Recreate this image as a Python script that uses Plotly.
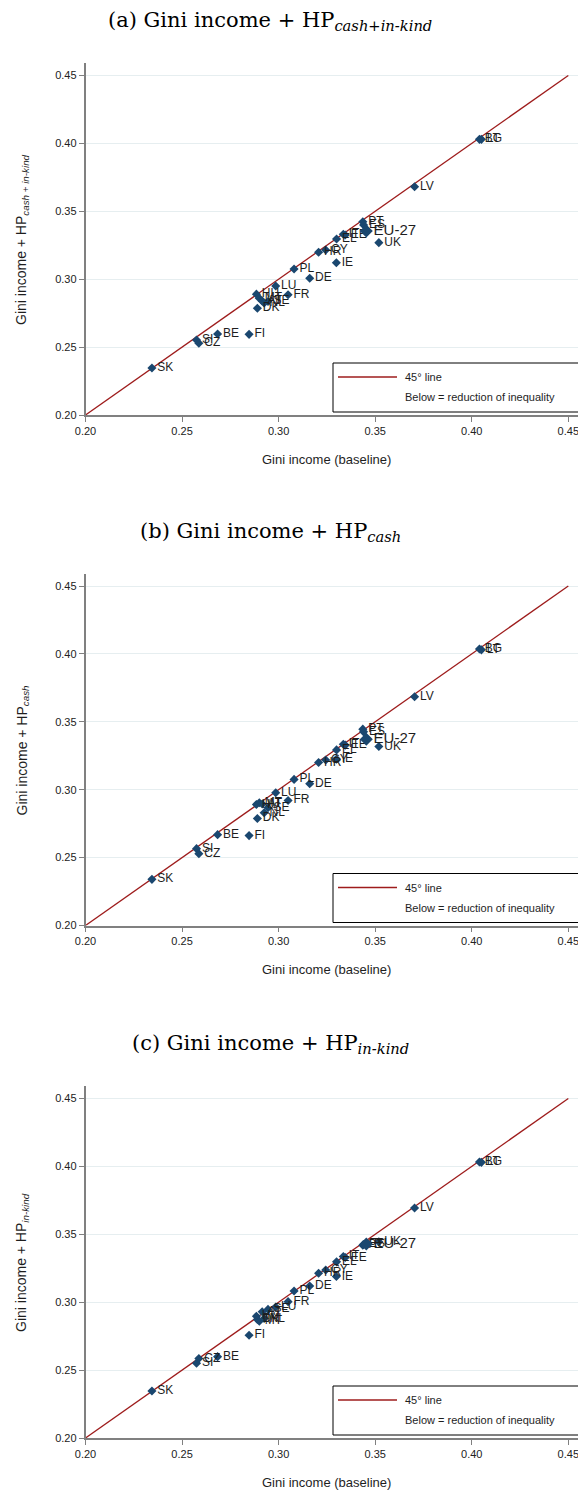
import plotly.graph_objects as go

# ---------------- data ----------------
countries = ["SK", "SI", "CZ", "BE", "FI", "HU", "DK", "MT", "AT", "NL", "SE",
             "LU", "FR", "PL", "DE", "HR", "CY", "IE", "EL", "IT", "EE",
             "PT", "ES", "UK", "LV", "BG", "LT"]
gini_base = [0.2344, 0.2575, 0.2587, 0.2684, 0.2847, 0.2885, 0.2890, 0.2900, 0.2915, 0.2925, 0.2945,
             0.2985, 0.3049, 0.3080, 0.3161, 0.3207, 0.3244, 0.3299, 0.3300, 0.3335, 0.3345,
             0.3436, 0.3440, 0.3519, 0.3704, 0.4040, 0.4050]
gini_cash_inkind = [0.2346, 0.2552, 0.2528, 0.2596, 0.2594, 0.2890, 0.2786, 0.2860, 0.2840, 0.2825, 0.2836,
                    0.2950, 0.2886, 0.3075, 0.3007, 0.3198, 0.3215, 0.3121, 0.3296, 0.3331, 0.3325,
                    0.3423, 0.3400, 0.3269, 0.3681, 0.4030, 0.4030]
gini_cash = [0.2340, 0.2566, 0.2529, 0.2669, 0.2662, 0.2891, 0.2788, 0.2904, 0.2895, 0.2830, 0.2867,
             0.2978, 0.2921, 0.3076, 0.3044, 0.3200, 0.3219, 0.3224, 0.3293, 0.3335, 0.3328,
             0.3446, 0.3426, 0.3318, 0.3685, 0.4036, 0.4030]
gini_inkind = [0.2346, 0.2550, 0.2585, 0.2599, 0.2757, 0.2897, 0.2873, 0.2860, 0.2930, 0.2880, 0.2947,
               0.2964, 0.3004, 0.3082, 0.3119, 0.3213, 0.3237, 0.3189, 0.3297, 0.3337, 0.3329,
               0.3420, 0.3425, 0.3445, 0.3694, 0.4032, 0.4030]

eu_label = ["EU-27"]
eu_base = [0.3454]
eu_cash_inkind = [0.3355]
eu_cash = [0.3372]
eu_inkind = [0.3428]

diag = [0.20, 0.45]
ticks = [0.20, 0.25, 0.30, 0.35, 0.40, 0.45]
tick_text = ["0.20", "0.25", "0.30", "0.35", "0.40", "0.45"]

panel_titles = ["(a) Gini income + HP<sub><i>cash+in-kind</i></sub>",
                "(b) Gini income + HP<sub><i>cash</i></sub>",
                "(c) Gini income + HP<sub><i>in-kind</i></sub>"]
y_titles = ["Gini income + HP<sub><i>cash + in-kind</i></sub>",
            "Gini income + HP<sub><i>cash</i></sub>",
            "Gini income + HP<sub><i>in-kind</i></sub>"]
x_title = "Gini income (baseline)"
legend_texts = ["45° line", "Below = reduction of inequality"]

# ---------------- layout helpers ----------------
W, H = 578, 1493
def xp(px):
    return px / W
def yp(py):
    return 1 - py / H

NAVY = "#1a476f"
RED = "#9e1c1c"
SANS = "Liberation Sans, Arial, sans-serif"
SERIF = "DejaVu Serif, Liberation Serif, serif"

offsets = [0, 510.5, 1023]
X0_PX, X45_PX = 85.5, 568.3
ppu_x = (X45_PX - X0_PX) / 0.25
Y20_PX, YTOP_PX = 415, 63
ppu_y = 1358.0

fig = go.Figure()
series = [gini_cash_inkind, gini_cash, gini_inkind]
eu_series = [eu_cash_inkind, eu_cash, eu_inkind]

shapes = []
annotations = []
for i in range(3):
    off = offsets[i]
    sfx = "" if i == 0 else str(i + 1)
    xa, ya = "x" + sfx, "y" + sfx
    fig.add_trace(go.Scatter(x=diag, y=diag, mode="lines", xaxis=xa, yaxis=ya,
                             line=dict(color=RED, width=1.3), hoverinfo="skip",
                             showlegend=False, cliponaxis=False))
    fig.add_trace(go.Scatter(x=gini_base, y=series[i], mode="markers+text",
                             text=countries, textposition="middle right",
                             textfont=dict(family=SANS, size=12, color="#1e1e1e"),
                             marker=dict(symbol="diamond", size=7, color=NAVY),
                             xaxis=xa, yaxis=ya, showlegend=False, cliponaxis=False))
    fig.add_trace(go.Scatter(x=eu_base, y=eu_series[i], mode="markers+text",
                             text=eu_label, textposition="middle right",
                             textfont=dict(family=SANS, size=15, color="#1e1e1e"),
                             marker=dict(symbol="diamond", size=10, color=NAVY),
                             xaxis=xa, yaxis=ya, showlegend=False, cliponaxis=False))

    xrange_top = 0.20 + (W - X0_PX) / ppu_x
    yrange_top = 0.20 + (Y20_PX - YTOP_PX) / ppu_y
    axis_common = dict(showline=True, linecolor="#808080", linewidth=1.5,
                       ticks="outside", ticklen=5, tickwidth=1, tickcolor="#808080",
                       tickvals=ticks, ticktext=tick_text, zeroline=False,
                       tickfont=dict(family=SANS, size=11, color="#222222"),
                       fixedrange=True, automargin=False, ticklabeloverflow="allow")
    fig.layout["xaxis" + sfx] = dict(axis_common, domain=[xp(X0_PX), 1.0],
                                     range=[0.20, xrange_top], anchor=ya,
                                     showgrid=False)
    fig.layout["yaxis" + sfx] = dict(axis_common, domain=[yp(Y20_PX + off), yp(YTOP_PX + off)],
                                     range=[0.20, yrange_top], anchor=xa,
                                     showgrid=True, gridcolor="#e6eef0", gridwidth=1)

    annotations.append(dict(text=panel_titles[i], x=xp(270), y=yp(21 + off),
                            xref="paper", yref="paper",
                            showarrow=False, xanchor="center", yanchor="middle",
                            font=dict(family=SERIF, size=21, color="#000000")))
    annotations.append(dict(text=x_title, x=xp((X0_PX + X45_PX) / 2), y=yp(459 + off),
                            xref="paper", yref="paper", showarrow=False,
                            xanchor="center", yanchor="middle",
                            font=dict(family=SANS, size=13, color="#1e1e1e")))
    annotations.append(dict(text=y_titles[i], x=xp(22), y=yp(240 + off),
                            xref="paper", yref="paper", showarrow=False, textangle=-90,
                            xanchor="center", yanchor="middle",
                            font=dict(family=SANS, size=14, color="#1e1e1e")))
    shapes.append(dict(type="rect", xref="paper", yref="paper",
                       x0=xp(333), x1=xp(585), y0=yp(412 + off), y1=yp(363 + off),
                       line=dict(color="#000000", width=1), fillcolor="white", layer="above"))
    shapes.append(dict(type="line", xref="paper", yref="paper",
                       x0=xp(338), x1=xp(397), y0=yp(377 + off), y1=yp(377 + off),
                       line=dict(color=RED, width=1.3), layer="above"))
    annotations.append(dict(text=legend_texts[0], x=xp(403), y=yp(377 + off),
                            xref="paper", yref="paper", showarrow=False,
                            xanchor="left", yanchor="middle",
                            font=dict(family=SANS, size=11, color="#1e1e1e")))
    annotations.append(dict(text=legend_texts[1], x=xp(403), y=yp(397 + off),
                            xref="paper", yref="paper", showarrow=False,
                            xanchor="left", yanchor="middle",
                            font=dict(family=SANS, size=11, color="#1e1e1e")))

fig.update_layout(width=W, height=H, margin=dict(l=0, r=0, t=0, b=0, autoexpand=False),
                  paper_bgcolor="white", plot_bgcolor="white",
                  shapes=shapes, annotations=annotations, showlegend=False)

fig.write_html("out.html", config={"displayModeBar": False})
